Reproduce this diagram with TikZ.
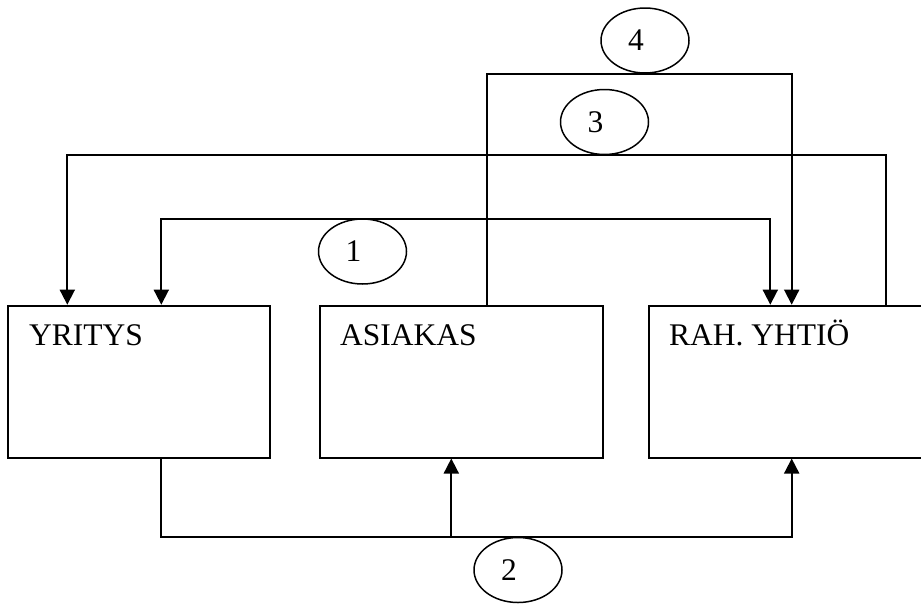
\documentclass[tikz,border=0pt]{standalone}
\usepackage{fontspec}
\setmainfont{Liberation Serif}
\usetikzlibrary{arrows.meta,shapes.geometric}
\tikzset{
  box/.style={draw, line width=1.8pt, rectangle, anchor=north west, minimum height=152pt, inner sep=0pt},
  lbl/.style={anchor=base west, inner sep=0pt, font=\fontsize{31.5}{36}\selectfont},
  oval/.style={draw, line width=1.5pt, ellipse, minimum width=88pt, minimum height=65pt, inner sep=0pt, font=\fontsize{31.5}{36}\selectfont},
  conn/.style={line width=1.8pt},
  arr/.style={conn, -{Triangle[width=15pt,length=15pt]}},
  arrs/.style={conn, {Triangle[width=15pt,length=15pt]}-{Triangle[width=15pt,length=15pt]}},
}
\newcommand{\ovaltext}[1]{\makebox[34pt][l]{#1}}
\begin{document}
\begin{tikzpicture}[x=1pt,y=-1pt]
\useasboundingbox (0,0) rectangle (921,603);
\clip (0,0) rectangle (921,603);
% boxes
\node[box, minimum width=261.7pt] (yr) at (7,304.7) {};
\node[box, minimum width=283.3pt] (as) at (319,304.7) {};
\node[box, minimum width=290pt] (rah) at (648,304.7) {};
\node[lbl] (yrt) at (29,345) {YRITYS};
\node[lbl] (ast) at (340,345) {ASIAKAS};
\node[lbl] (raht) at (669,345) {RAH. YHTIÖ};
% level coordinates
\coordinate (t4) at (0,73.7);
\coordinate (t3) at (0,155);
\coordinate (t1) at (0,218.7);
\coordinate (b2) at (0,537.3);
% connector 3
\draw[arr] ([xshift=238.3pt]rah.north west) coordinate (s3) -- (s3 |- t3) -| ([xshift=60.3pt]yr.north west);
% connector 1
\draw[arrs] ([xshift=154.3pt]yr.north west) coordinate (s1) -- (s1 |- t1) -| ([xshift=122.3pt]rah.north west);
% connector 4
\draw[arr] ([xshift=168.3pt]as.north west) coordinate (s4) -- (s4 |- t4) -| ([xshift=143.7pt]rah.north west);
% connector 2
\draw[arr] ([xshift=154.3pt]yr.south west) coordinate (s2) -- (s2 |- b2) -| ([xshift=143.7pt]rah.south west);
\coordinate (a2) at ([xshift=132.3pt]as.south west);
\draw[arr] (a2 |- b2) -- (a2);
% ovals
\node[oval] (o4) at (645,40.5) {\ovaltext{4}};
\node[oval] (o3) at (604.5,122) {\ovaltext{3}};
\node[oval] (o1) at (362.5,251.5) {\ovaltext{1}};
\node[oval] (o2) at (518,570) {\ovaltext{2}};
\end{tikzpicture}
\end{document}
